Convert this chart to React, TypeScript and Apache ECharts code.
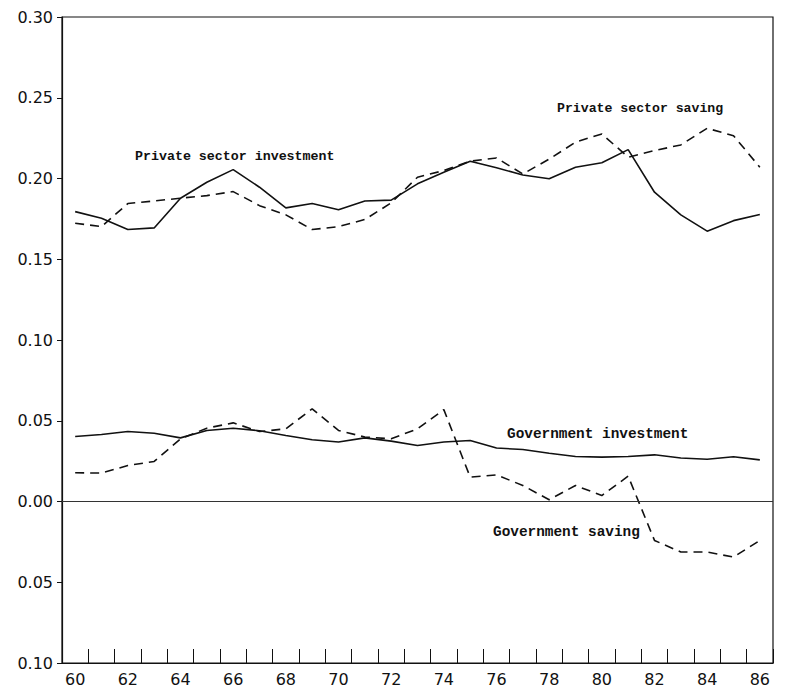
import React, { useEffect, useRef } from "react";
import * as echarts from "echarts";

const years = [
  "60","61","62","63","64","65","66","67","68","69","70","71","72","73",
  "74","75","76","77","78","79","80","81","82","83","84","85","86",
];

const privateInvestment = [
  0.1795, 0.1754, 0.1684, 0.1694, 0.1878, 0.1977, 0.2055, 0.1946, 0.1818,
  0.1845, 0.1806, 0.1861, 0.1866, 0.1967, 0.2039, 0.2107, 0.2066, 0.2022,
  0.1998, 0.207, 0.2097, 0.2179, 0.1915, 0.1775, 0.1674, 0.1739, 0.1777,
];

const privateSaving = [
  0.1723, 0.1702, 0.1845, 0.1861, 0.1878, 0.1894, 0.1919, 0.1832, 0.1775,
  0.1684, 0.1702, 0.1746, 0.1849, 0.2008, 0.2049, 0.2107, 0.2127, 0.2028,
  0.212, 0.2225, 0.2276, 0.2132, 0.2173, 0.2208, 0.2311, 0.2265, 0.207,
];

const govInvestment = [
  0.0402, 0.0415, 0.0433, 0.0423, 0.0394, 0.044, 0.0454, 0.0438, 0.0409,
  0.0382, 0.0368, 0.0394, 0.0374, 0.0347, 0.0368, 0.0378, 0.0331, 0.0322,
  0.0299, 0.0279, 0.0275, 0.0279, 0.0289, 0.0269, 0.0262, 0.0277, 0.0258,
];

const govSaving = [
  0.0178, 0.0176, 0.0223, 0.0248, 0.0388, 0.0454, 0.0487, 0.0433, 0.045,
  0.0574, 0.044, 0.0399, 0.0388, 0.045, 0.0569, 0.0151, 0.0165, 0.0099,
  0.0011, 0.0099, 0.0037, 0.0157, -0.0241, -0.0313, -0.0313, -0.0344, -0.0241,
];

const seriesLabels = [
  { text: "Private sector investment", x: 135, y: 158, size: 13.3 },
  { text: "Private sector saving", x: 557, y: 110, size: 13.2 },
  { text: "Government investment", x: 507, y: 435, size: 14.4 },
  { text: "Government saving", x: 493, y: 533, size: 14.4 },
];

export default function App() {
  const ref = useRef<HTMLDivElement>(null);
  useEffect(() => {
    if (!ref.current) return;
    const chart = echarts.init(ref.current, null, { renderer: "svg" });
    const solid = { color: "#111", width: 1.6, type: "solid" as const };
    const dashed = { color: "#111", width: 1.6, type: [9, 6] as any };
    chart.setOption({
      animation: false,
      backgroundColor: "#fff",
      grid: {
        left: 62,
        right: 13,
        top: 17,
        bottom: 26,
        show: true,
        borderColor: "#111",
        borderWidth: 1.2,
      },
      xAxis: {
        type: "category",
        data: years,
        boundaryGap: true,
        axisLine: { onZero: false, lineStyle: { color: "#111", width: 1.2 } },
        axisTick: {
          show: true,
          inside: true,
          length: 14,
          interval: 0,
          lineStyle: { color: "#111", width: 1 },
        },
        axisLabel: {
          interval: 1,
          margin: 8,
          color: "#111",
          fontFamily: "DejaVu Sans",
          fontSize: 16,
        },
        splitLine: { show: false },
      },
      yAxis: {
        type: "value",
        min: -0.1,
        max: 0.3,
        interval: 0.05,
        axisLine: { show: true, lineStyle: { color: "#111", width: 1.2 } },
        axisTick: { show: true, length: 5, lineStyle: { color: "#111" } },
        axisLabel: {
          margin: 9,
          color: "#111",
          fontFamily: "DejaVu Sans",
          fontSize: 16,
          formatter: (v: number) => Math.abs(v).toFixed(2),
        },
        splitLine: { show: false },
      },
      graphic: seriesLabels.map((l) => ({
        type: "text",
        left: l.x,
        top: l.y - l.size / 2 - 1,
        style: {
          text: l.text,
          fill: "#111",
          font: `bold ${l.size}px 'Liberation Mono'`,
        },
      })),
      series: [
        {
          name: "Private sector investment",
          type: "line",
          data: privateInvestment,
          showSymbol: false,
          lineStyle: solid,
          markLine: {
            silent: true,
            symbol: "none",
            label: { show: false },
            lineStyle: { color: "#333", width: 1, type: "solid" },
            data: [{ yAxis: 0 }],
          },
        },
        {
          name: "Private sector saving",
          type: "line",
          data: privateSaving,
          showSymbol: false,
          lineStyle: dashed,
        },
        {
          name: "Government investment",
          type: "line",
          data: govInvestment,
          showSymbol: false,
          lineStyle: solid,
        },
        {
          name: "Government saving",
          type: "line",
          data: govSaving,
          showSymbol: false,
          lineStyle: dashed,
        },
      ],
    });
    return () => chart.dispose();
  }, []);
  return (
    <div
      ref={ref}
      style={{ position: "fixed", left: 0, top: 0, width: 786, height: 689 }}
    />
  );
}
